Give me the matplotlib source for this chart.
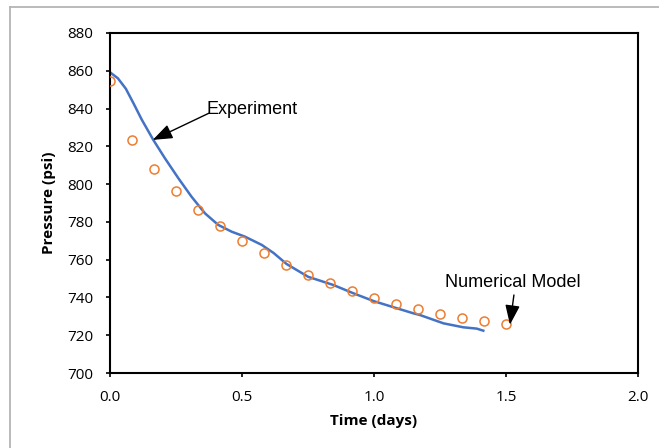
import matplotlib.pyplot as plt
from matplotlib.lines import Line2D

# Experiment (open circles), every 2 hours
t_exp = [0.0, 0.083, 0.167, 0.25, 0.333, 0.417, 0.5, 0.583, 0.667, 0.75,
         0.833, 0.917, 1.0, 1.083, 1.167, 1.25, 1.333, 1.417, 1.5]
p_exp = [854.8, 823.6, 808.2, 796.5, 786.2, 777.7, 770.1, 763.3, 757.1, 752.1,
         747.5, 743.5, 739.7, 736.5, 733.9, 731.4, 729.1, 727.3, 725.7]

# Numerical model (solid line)
t_num = [0.0, 0.03, 0.06, 0.09, 0.12, 0.164, 0.208, 0.259, 0.309, 0.36,
         0.41, 0.461, 0.511, 0.575, 0.62, 0.669, 0.751, 0.846, 0.922, 1.0,
         1.086, 1.149, 1.174, 1.263, 1.338, 1.389, 1.414]
p_num = [859.2, 856.0, 850.5, 842.5, 834.2, 823.4, 813.7, 803.1, 793.3, 784.5,
         778.4, 774.8, 772.2, 767.8, 763.5, 757.7, 750.9, 746.6, 742.2, 738.0,
         734.3, 731.6, 730.7, 726.3, 724.2, 723.5, 722.4]

fig = plt.figure(figsize=(6.59, 4.48), dpi=100)
ax = fig.add_axes([110/659, 1 - 373/448, 528/659, 340/448])

ax.plot(t_num, p_num, '-', color='#4472C4', linewidth=1.8, zorder=2,
        solid_joinstyle='round')
ax.plot(t_exp, p_exp, 'o', markerfacecolor='none', markeredgecolor='#ED7D31',
        markersize=6.5, markeredgewidth=1.1, linestyle='none', zorder=3)

ax.set_xlim(0, 2)
ax.set_ylim(700, 880)
ax.set_xticks([0.0, 0.5, 1.0, 1.5, 2.0])
ax.set_xticklabels(['0.0', '0.5', '1.0', '1.5', '2.0'])
ax.set_yticks(range(700, 881, 20))

for s in ax.spines.values():
    s.set_color('black')
    s.set_linewidth(1.5)
ax.tick_params(direction='out', length=3, width=1.2, pad=9, labelsize=11)
for lab in ax.get_xticklabels() + ax.get_yticklabels():
    lab.set_family('Open Sans')

ax.set_xlabel('Time (days)', fontsize=11, fontweight='bold', family='Open Sans', labelpad=7)
ax.set_ylabel('Pressure (psi)', fontsize=11, fontweight='bold', family='Open Sans', labelpad=8)

arrow = dict(arrowstyle='-|>,head_length=0.8,head_width=0.3', color='black',
             linewidth=1, mutation_scale=15, shrinkA=0, shrinkB=0)
ax.annotate('', xy=(0.162, 823.4), xytext=(0.374, 837.5), arrowprops=arrow)
ax.text(0.366, 837.3, 'Experiment', fontsize=13, family='Liberation Sans',
        ha='left', va='baseline')
ax.annotate('', xy=(1.515, 725.6), xytext=(1.53, 741.3), arrowprops=arrow)
ax.text(1.524, 745.5, 'Numerical Model', fontsize=13, family='Liberation Sans',
        ha='center', va='baseline')

# light grey chart border
fig.add_artist(Line2D([10/659, 10/659], [0, 1 - 7/448], color='#B4B4B4', linewidth=1.3,
                      transform=fig.transFigure))
fig.add_artist(Line2D([10/659, 1], [1 - 7/448, 1 - 7/448], color='#B4B4B4', linewidth=1.3,
                      transform=fig.transFigure))

fig.savefig('out.png', dpi=100)
